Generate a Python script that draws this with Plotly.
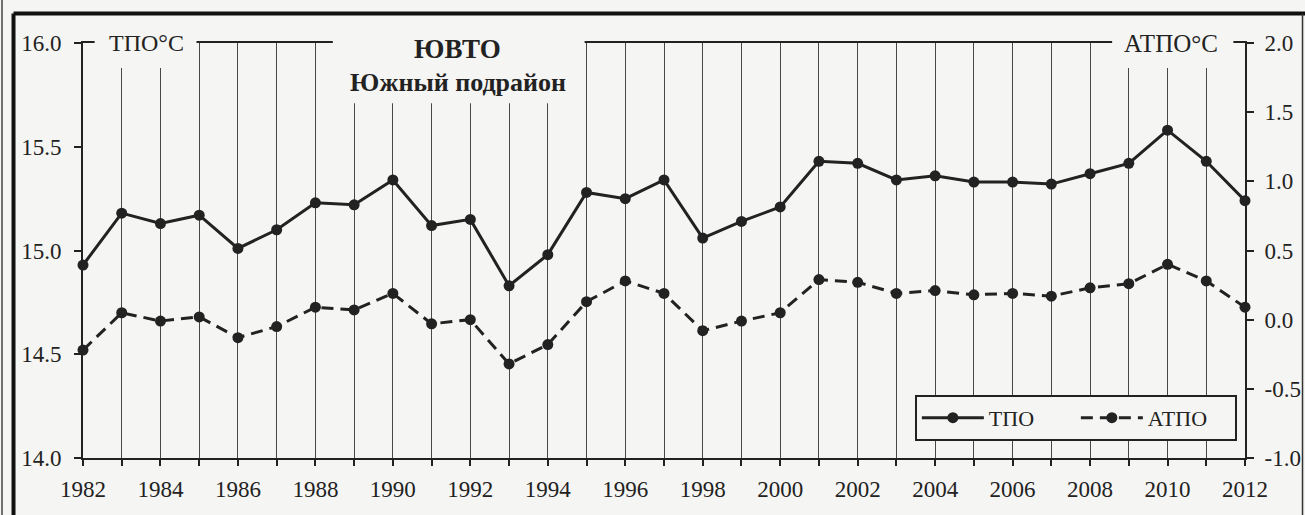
import plotly.graph_objects as go

# Годы наблюдений
years = list(range(1982, 2013))

# ТПО, °C (левая ось)
tpo = [14.93, 15.18, 15.13, 15.17, 15.01, 15.10, 15.23, 15.22, 15.34, 15.12,
       15.15, 14.83, 14.98, 15.28, 15.25, 15.34, 15.06, 15.14, 15.21, 15.43,
       15.42, 15.34, 15.36, 15.33, 15.33, 15.32, 15.37, 15.42, 15.58, 15.43,
       15.24]

# АТПО, °C (правая ось)
atpo = [-0.22, 0.05, -0.01, 0.02, -0.13, -0.05, 0.09, 0.07, 0.19, -0.03,
        0.00, -0.32, -0.18, 0.13, 0.28, 0.19, -0.08, -0.01, 0.05, 0.29,
        0.27, 0.19, 0.21, 0.18, 0.19, 0.17, 0.23, 0.26, 0.40, 0.28,
        0.09]

# Подписи делений
year_labels = ["1982", "", "1984", "", "1986", "", "1988", "", "1990", "",
               "1992", "", "1994", "", "1996", "", "1998", "", "2000", "",
               "2002", "", "2004", "", "2006", "", "2008", "", "2010", "",
               "2012"]
left_vals = [14.0, 14.5, 15.0, 15.5, 16.0]
left_text = ["14.0", "14.5", "15.0", "15.5", "16.0"]
right_vals = [-1.0, -0.5, 0.0, 0.5, 1.0, 1.5, 2.0]
right_text = ["-1.0", "-0.5", "0.0", "0.5", "1.0", "1.5", "2.0"]

BG = "#f5f5f3"
INK = "#222222"
FONT = "Liberation Serif"

fig = go.Figure()
fig.add_trace(go.Scatter(
    x=years, y=tpo, name="ТПО", mode="lines+markers",
    line=dict(color=INK, width=3), marker=dict(size=11, color=INK),
    cliponaxis=False, yaxis="y"))
fig.add_trace(go.Scatter(
    x=years, y=atpo, name="АТПО", mode="lines+markers",
    line=dict(color=INK, width=3, dash="12px,7px"), marker=dict(size=11, color=INK),
    cliponaxis=False, yaxis="y2"))

tickfont = dict(family=FONT, size=23, color=INK)

fig.update_layout(
    width=1305, height=515,
    margin=dict(l=83, r=60, t=43, b=57, autoexpand=False),
    paper_bgcolor=BG, plot_bgcolor=BG,
    font=dict(family=FONT, color=INK),
    showlegend=True,
    xaxis=dict(range=[1982, 2012], tickvals=years, ticktext=year_labels,
               ticks="outside", ticklen=6, tickwidth=1.5, tickcolor=INK,
               showgrid=True, gridcolor="#484848", gridwidth=1,
               showline=True, linewidth=2, linecolor=INK, mirror=True,
               zeroline=False, tickfont=tickfont, ticklabelstandoff=3),
    xaxis2=dict(range=[1982, 2012], tickvals=years, overlaying="x", anchor="y",
                ticks="inside", ticklen=6, tickwidth=1.5, tickcolor=INK,
                showticklabels=False, showgrid=False, showline=False, zeroline=False),
    yaxis=dict(range=[14, 16], tickvals=left_vals, ticktext=left_text,
               ticks="outside", ticklen=7, tickwidth=1.5, tickcolor=INK,
               showline=True, linewidth=2, linecolor=INK, showgrid=False,
               zeroline=False, tickfont=tickfont, ticklabelstandoff=8),
    yaxis3=dict(range=[14, 16], tickvals=left_vals, overlaying="y", side="left",
                anchor="x", ticks="inside", ticklen=7, tickwidth=1.5, tickcolor=INK,
                showticklabels=False, showgrid=False, showline=False, zeroline=False),
    yaxis2=dict(range=[-1, 2], tickvals=right_vals, ticktext=right_text,
                overlaying="y", side="right", anchor="x",
                ticks="outside", ticklen=7, tickwidth=1.5, tickcolor=INK,
                showline=True, linewidth=2, linecolor=INK, showgrid=False,
                zeroline=False, tickfont=tickfont, ticklabelstandoff=6),
    yaxis4=dict(range=[-1, 2], tickvals=right_vals, overlaying="y", side="right",
                anchor="x", ticks="inside", ticklen=7, tickwidth=1.5, tickcolor=INK,
                showticklabels=False, showgrid=False, showline=False, zeroline=False),
    legend=dict(orientation="h", x=0.993, y=0.152, xanchor="right", yanchor="top",
                bgcolor=BG, bordercolor=INK, borderwidth=2,
                font=dict(family=FONT, size=22, color=INK),
                entrywidth=82, itemwidth=62),
)

# Белые подложки под надписями, перекрывающие сетку
for x0, x1, y0 in [(1982.3, 1984.93, 0.94), (1988.45, 1994.95, 0.855),
                   (2008.57, 2011.7, 0.94)]:
    fig.add_shape(type="rect", xref="x", yref="paper", x0=x0, x1=x1,
                  y0=y0, y1=1.03, fillcolor=BG, line=dict(width=0), layer="above")

# Рамка рисунка
frame = dict(xref="paper", yref="paper", type="line", layer="above")
fig.add_shape(x0=-0.0598, x1=1.07, y0=1.0711, y1=1.0711,
              line=dict(color="#111", width=4), **frame)
fig.add_shape(x0=-0.0598, x1=-0.0598, y0=1.0711, y1=-0.2,
              line=dict(color="#111", width=4), **frame)
fig.add_shape(x0=1.0495, x1=1.0495, y0=1.0711, y1=-0.2,
              line=dict(color="#333", width=1.5), **frame)
fig.add_shape(x0=-0.0697, x1=-0.0697, y0=1.2, y1=-0.2,
              line=dict(color="#444", width=1.5), **frame)

# Подписи осей и заголовок
fig.add_annotation(x=1983.65, y=1.0, xref="x", yref="paper", text="ТПО°С",
                   showarrow=False, yanchor="middle",
                   font=dict(family=FONT, size=24, color=INK))
fig.add_annotation(x=2010.09, y=1.0, xref="x", yref="paper", text="АТПО°С",
                   showarrow=False, yanchor="middle",
                   font=dict(family=FONT, size=25, color=INK))
fig.add_annotation(x=1991.68, y=0.9855, xref="x", yref="paper", text="<b>ЮВТО</b>",
                   showarrow=False, yanchor="middle",
                   font=dict(family=FONT, size=27, color=INK))
fig.add_annotation(x=1991.68, y=0.906, xref="x", yref="paper",
                   text="<b>Южный подрайон</b>", showarrow=False, yanchor="middle",
                   font=dict(family=FONT, size=26, color=INK))

fig.write_html("out.html")
